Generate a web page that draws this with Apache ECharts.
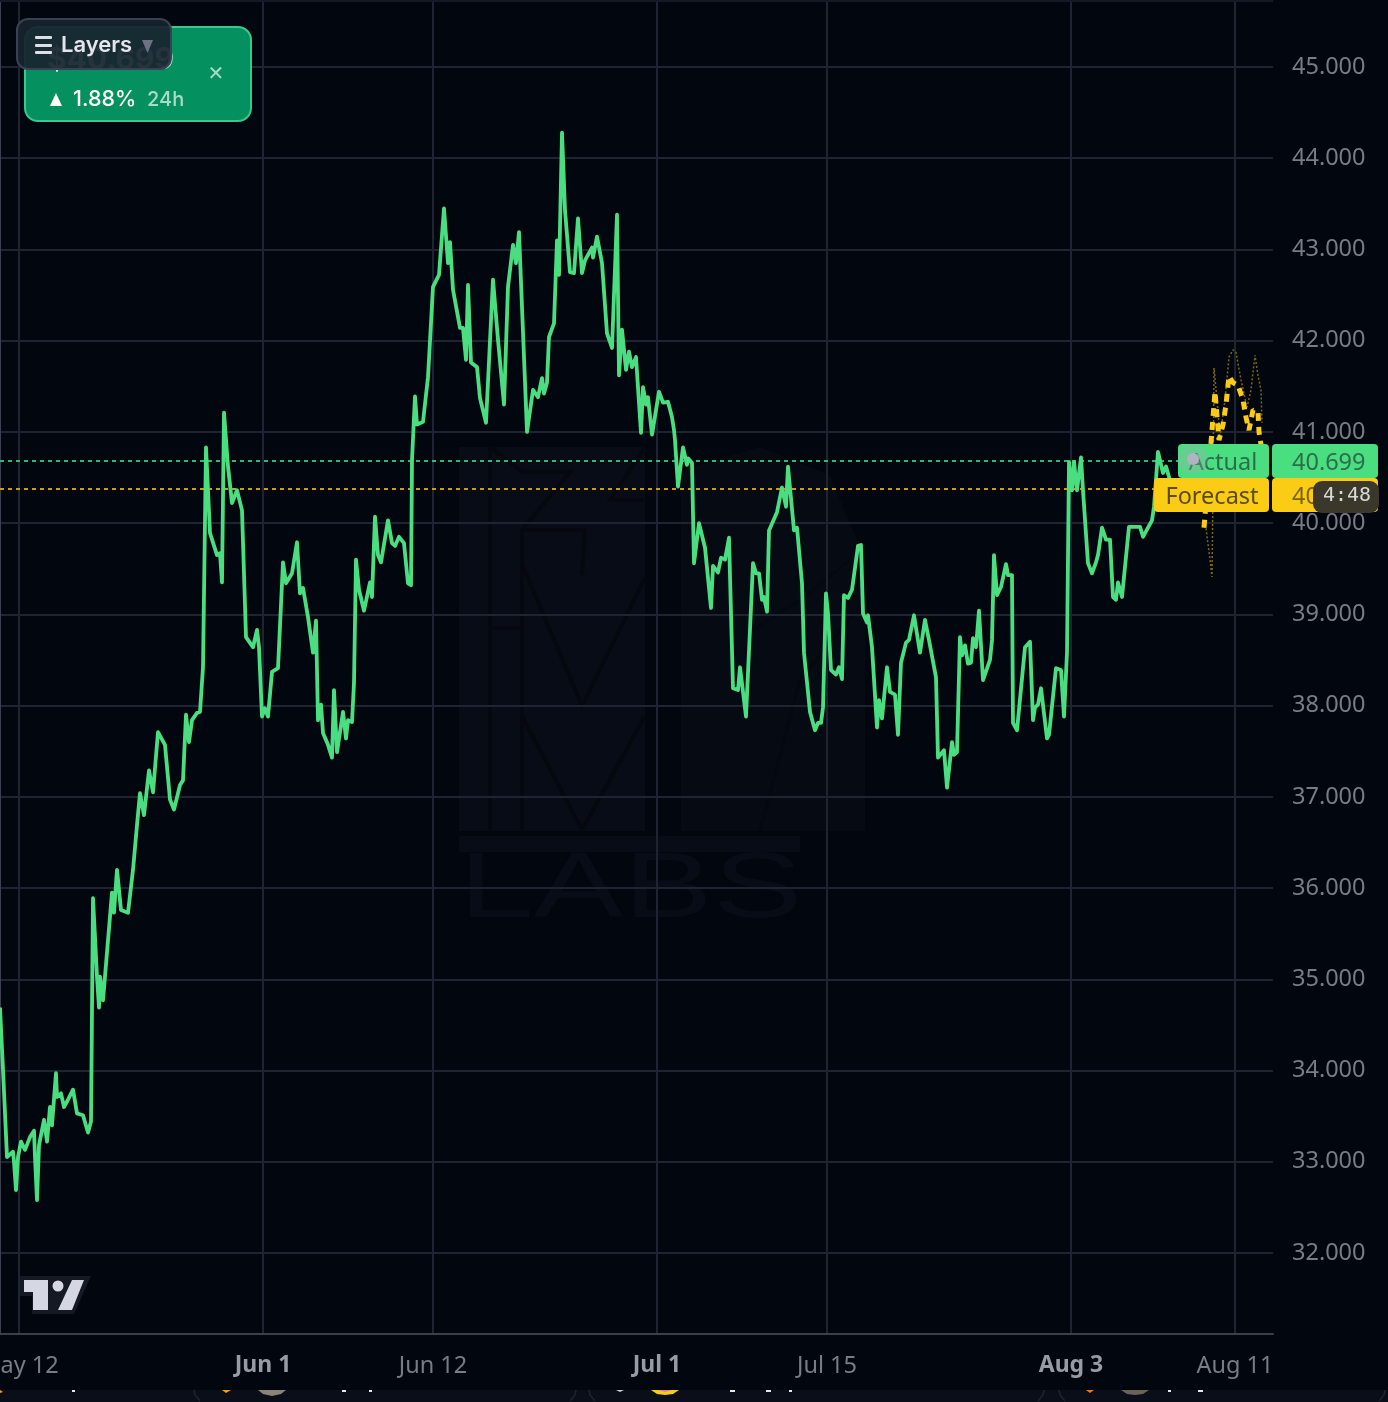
<!DOCTYPE html>
<html><head><meta charset="utf-8">
<style>html,body{margin:0;padding:0;background:#02060f}#c{width:1388px;height:1402px}#c canvas{filter:blur(.6px)}</style>
<script src="https://cdn.jsdelivr.net/npm/echarts@6/dist/echarts.min.js"></script>
</head><body><div id="c"></div>
<script>
// Time scale: session bar numbers on the (non-uniform) trading time axis
const xTickBars = [19, 263, 433, 657, 827, 1071, 1235];
const xTickLabels = ['May 12', 'Jun 1', 'Jun 12', 'Jul 1', 'Jul 15', 'Aug 3', 'Aug 11'];
const xTickMajor = ['Jun 1', 'Jul 1', 'Aug 3'];
const yTicks = [32, 33, 34, 35, 36, 37, 38, 39, 40, 41, 42, 43, 44, 45];

const actualBars = [0,3,7,9,13,14,16,18,21,25,30,34,35,37,39,44,47,50,52,56,57,61,64,68,73,77,83,88,91,93,97,99,100,103,112,114,117,121,128,133,137,140,144,149,153,158,165,170,174,180,183,186,189,192,197,200,203,206,210,217,220,222,224,228,232,237,242,246,253,257,259,262,265,268,272,278,283,286,292,297,300,303,308,313,316,318,321,323,328,332,334,337,343,346,348,352,354,356,359,364,370,372,375,378,381,388,392,395,399,404,408,411,412,415,417,423,428,433,439,444,448,450,453,460,463,466,468,471,477,480,486,493,498,504,508,513,516,519,527,533,538,542,544,547,549,554,557,559,562,565,570,574,578,582,585,592,593,597,602,607,612,617,619,622,626,629,632,636,641,643,646,648,652,659,663,668,672,674,675,678,683,687,688,692,694,699,705,711,713,718,721,725,729,733,738,740,746,748,753,756,759,762,764,767,769,777,782,786,788,794,797,802,804,810,815,818,821,823,826,828,831,836,839,842,844,848,852,858,861,863,867,868,872,877,879,882,887,890,895,898,901,906,909,914,920,925,930,936,938,944,947,949,952,954,957,960,962,965,968,971,973,976,979,983,990,992,994,997,1001,1006,1008,1012,1013,1017,1025,1030,1033,1035,1038,1041,1047,1049,1056,1061,1064,1067,1069,1072,1074,1077,1081,1083,1088,1092,1096,1098,1102,1106,1110,1113,1116,1118,1122,1124,1129,1140,1143,1152,1154,1158,1163,1166,1170];
const actualPrices = [34.69,34.01,33.05,33.04,33.11,33.00,32.69,33.05,33.22,33.13,33.27,33.34,33.05,32.58,33.18,33.46,33.22,33.60,33.40,33.97,33.71,33.75,33.60,33.68,33.79,33.53,33.51,33.32,33.44,35.89,35.03,34.69,35.03,34.77,35.95,35.73,36.20,35.76,35.73,36.20,36.69,37.04,36.80,37.29,37.05,37.71,37.57,36.97,36.86,37.13,37.18,37.90,37.60,37.84,37.92,37.93,38.42,40.83,39.89,39.65,39.67,39.35,41.21,40.62,40.22,40.36,40.14,38.75,38.64,38.83,38.64,37.88,37.97,37.88,38.37,38.41,39.57,39.34,39.45,39.79,39.23,39.29,38.97,38.58,38.93,37.84,38.01,37.70,37.57,37.43,38.17,37.49,37.93,37.64,37.84,37.82,38.25,39.60,39.27,39.04,39.35,39.19,40.07,39.65,39.57,40.03,39.78,39.75,39.85,39.78,39.34,39.32,40.69,41.39,41.08,41.11,41.60,42.59,42.72,43.45,42.85,43.08,42.56,42.14,42.14,41.79,42.61,41.76,41.71,41.37,41.10,42.67,42.01,41.30,42.59,43.05,42.85,43.19,41.00,41.46,41.38,41.59,41.42,41.54,42.04,42.19,43.10,42.72,44.28,43.43,42.75,42.74,43.34,42.74,42.88,43.02,42.91,43.14,42.85,42.08,41.92,43.38,41.62,42.12,41.68,41.88,41.71,41.82,40.99,41.49,41.30,41.38,40.97,41.44,41.32,41.33,41.16,41.02,40.91,40.40,40.83,40.64,40.71,40.66,39.56,40.00,39.73,39.07,39.53,39.46,39.62,39.60,39.84,38.19,38.17,38.42,37.88,37.90,39.56,39.45,39.45,39.16,39.19,39.03,39.92,40.12,40.39,40.18,40.62,39.92,39.95,39.34,38.58,37.93,37.73,37.81,37.81,37.98,39.23,39.01,38.39,38.34,38.42,38.29,39.21,39.18,39.27,39.75,39.76,39.01,38.91,38.99,38.64,37.76,38.06,37.86,38.42,38.15,38.12,37.68,38.47,38.69,38.72,38.99,38.58,38.94,38.66,38.31,37.43,37.51,37.10,37.08,37.60,37.46,37.49,38.75,38.55,38.66,38.46,38.47,38.74,38.64,39.04,38.28,38.50,38.72,39.65,39.21,39.30,39.55,39.43,39.43,37.81,37.73,38.64,38.70,37.84,37.98,38.01,38.19,37.64,37.68,38.41,38.39,37.88,38.58,40.67,40.36,40.67,40.36,40.72,40.36,39.56,39.45,39.57,39.65,39.95,39.82,39.82,39.19,39.16,39.35,39.19,39.17,39.96,39.96,39.85,40.03,40.18,40.78,40.55,40.62,40.47];

const forecastBars = [1204,1208,1212,1215,1219,1223,1226,1229,1233,1238,1243,1246,1249,1253,1258,1259,1261];
const forecastPrices = [39.95,40.47,41.02,41.44,40.91,41.08,41.30,41.61,41.54,41.51,41.35,41.16,41.02,41.24,41.22,41.00,40.86];
const bandBars = [1205,1210,1212,1213,1214,1217,1220,1225,1229,1233,1236,1241,1247,1251,1255,1258,1261,1262];
const bandPrices = [40.03,39.60,39.41,40.40,41.70,41.35,40.94,41.35,41.82,41.90,41.87,41.57,41.27,41.46,41.84,41.62,41.46,41.10];

const actualLast = 40.699;
const forecastLast = 40.38;
const pct24h = '1.88%';
const countdown = '4:48';

const FONT = '"Noto Sans", sans-serif';
const UI = 'Inter, sans-serif';
const GREEN = '#4ade80', YELLOW = '#facc15', GRID = '#1f2432', AXIS = '#3a4050', LABEL = '#777c87';
const toPairs = (xs, ys) => xs.map((x, i) => [x, ys[i]]);

const wm = '#080c16', wmDark = '#05080f';
const poly = (pts, fill, z) => ({ type: 'polygon', z: z || -5, silent: true, shape: { points: pts }, style: { fill } });
const wline = (pts, c, w) => ({ type: 'polyline', z: -4, silent: true, shape: { points: pts }, style: { stroke: c || wmDark, lineWidth: w || 4, fill: 'none' } });
const rect = (x, y, w, h, fill, r, z, stroke, lw) => ({ type: 'rect', z: z === undefined ? 50 : z, silent: true,
  shape: { x, y, width: w, height: h, r: r || 0 }, style: { fill, stroke, lineWidth: lw || 0 } });
const text = (x, y, t, o) => ({ type: 'text', z: (o && o.z) || 60, silent: true, x, y,
  style: Object.assign({ text: t, font: '400 23.5px ' + FONT, fill: '#fff', textAlign: 'left', textVerticalAlign: 'middle' }, o) });

const watermark = [
  poly([[459,447],[645,447],[645,831],[459,831]], wm),
  poly([[681,470],[760,447],[830,475],[865,560],[865,831],[681,831]], '#060a13'),
  poly([[459,836],[800,836],[800,852],[459,852]], wm),
  wline([[490,447],[490,831]]),
  wline([[522,530],[522,831]]),
  wline([[490,628],[522,628]]),
  wline([[490,447],[522,472],[570,472],[522,530]]),
  wline([[522,530],[585,530],[582,575]]),
  wline([[522,564],[582,706],[645,578]]),
  wline([[522,716],[582,830],[645,716]]),
  wline([[645,447],[610,500],[645,500]]),
  wline([[760,831],[800,680],[865,600]], '#05080f', 3),
  wline([[752,631],[800,600],[850,560]], '#05080f', 3),
  { type: 'text', z: -5, silent: true, x: 459, y: 892, scaleX: 1.46, style: { text: 'LABS', font: '400 92px "Liberation Sans", sans-serif', fill: wm, textAlign: 'left', textVerticalAlign: 'middle' } },
];

const cardEdge = (pts) => ({ type: 'polyline', z: 46, silent: true, shape: { points: pts }, style: { stroke: '#1e2433', lineWidth: 1.5, fill: 'none' } });
const bottomStrip = [
  rect(0, 1390, 1388, 12, '#0a0e18', 0, 40),
  cardEdge([[194,1390],[195,1395],[200,1401]]), cardEdge([[576,1390],[575,1395],[570,1401]]),
  cardEdge([[589,1390],[590,1395],[595,1401]]), cardEdge([[1044,1390],[1043,1395],[1038,1401]]),
  cardEdge([[1059,1390],[1060,1395],[1065,1401]]), cardEdge([[1385,1390],[1384,1395],[1379,1401]]),
  poly([[0,1390],[3,1392],[0,1393]], '#f59e0b', 45),
  poly([[222,1390],[226,1393],[231,1390]], '#f59e0b', 45),
  poly([[258,1390],[263,1394],[272,1396],[281,1394],[286,1390]], '#8a8478', 45),
  poly([[651,1390],[657,1394],[665,1395],[673,1394],[679,1390]], '#facc15', 45),
  poly([[658,1390],[665,1392],[672,1390]], '#e879a8', 46),
  poly([[616,1390],[620,1392],[624,1390]], '#c8ccd4', 45),
  poly([[1121,1390],[1127,1394],[1135,1395],[1143,1394],[1149,1390]], '#6a6458', 45),
  poly([[1086,1390],[1090,1393],[1094,1390]], '#f97316', 45),
  rect(72, 1390, 3, 2, '#e5e7eb', 0, 45), rect(342, 1390, 4, 2, '#e5e7eb', 0, 45), rect(369, 1390, 3, 2, '#e5e7eb', 0, 45),
  rect(730, 1390, 5, 2, '#e5e7eb', 0, 45), rect(766, 1390, 5, 2, '#e5e7eb', 0, 45), rect(789, 1390, 3, 2, '#e5e7eb', 0, 45),
  rect(1168, 1390, 3, 2, '#e5e7eb', 0, 45), rect(1198, 1390, 5, 2, '#e5e7eb', 0, 45),
];

const tvLogo = [
  poly([[20,1276],[91,1276],[74,1314],[32,1314],[32,1296],[20,1296]], '#141924', 30),
  poly([[24,1280],[48,1280],[48,1310],[33,1310],[33,1292],[24,1292]], '#d5d8e2', 31),
  { type: 'circle', z: 31, silent: true, shape: { cx: 58, cy: 1286, r: 5.5 }, style: { fill: '#d5d8e2' } },
  poly([[72,1280],[84,1280],[72,1310],[58,1310]], '#d5d8e2', 31),
];

const priceTags = [
  rect(1178, 444, 91, 34, GREEN, 4, 50),
  rect(1272, 444, 106, 34, GREEN, 4, 50),
  text(1223, 463, 'Actual', { textAlign: 'center', fill: '#2b6e49' }),
  text(1292, 463, actualLast.toFixed(3), { fill: '#2b6e49' }),
  rect(1154, 478, 115, 34, YELLOW, 4, 51),
  rect(1272, 478, 106, 34, YELLOW, 4, 51),
  text(1212, 497, 'Forecast', { textAlign: 'center', fill: '#5c4b0c', z: 61 }),
  text(1292, 497, forecastLast.toFixed(3), { fill: '#7a6410', z: 61 }),
  rect(1313, 481, 66, 32, '#3c372b', 9, 62),
  text(1347, 496, countdown, { textAlign: 'center', font: '400 20px "DejaVu Sans Mono", monospace', fill: '#d8d8d4', z: 63 }),
  { type: 'circle', z: 64, silent: true, shape: { cx: 1193, cy: 459, r: 15 }, style: { fill: 'rgba(170,170,185,0.28)' } },
  { type: 'circle', z: 65, silent: true, shape: { cx: 1193, cy: 459, r: 6 }, style: { fill: '#b2b3c2' } },
];

const panels = [
  rect(25, 27, 226, 94, '#05905f', 13, 70, '#3ac88d', 2),
  text(73, 100, pct24h, { z: 71, font: '500 21.5px ' + UI, fill: '#ffffff' }),
  poly([[56,93],[62,106],[50,106]], '#fff', 71),
  text(147, 100, '24h', { z: 71, font: '500 20px ' + UI, fill: '#a9dcc8' }),
  text(216, 75, '✕', { z: 71, textAlign: 'center', font: '400 20px "DejaVu Sans", sans-serif', fill: '#a9dcc8' }),
  text(47, 60, '$40.699', { z: 71, font: '700 30px ' + UI, fill: '#d8f2e6' }),
  rect(17, 19, 154, 50, 'rgba(24,36,46,0.93)', 11, 72, '#3a4152', 2),
  rect(35, 36, 17, 3, '#dcdfe6', 1, 73), rect(35, 44, 17, 3, '#dcdfe6', 1, 73), rect(35, 51, 17, 3, '#dcdfe6', 1, 73),
  text(61, 45, 'Layers', { z: 73, font: '600 22px ' + UI, fill: '#e4e6ec' }),
  poly([[142,40],[153,40],[147.5,53]], '#6c7282', 73),
];

const topLine = [{ type: 'rect', z: 1, silent: true, shape: { x: 0, y: 0, width: 1273, height: 2 }, style: { fill: '#141926' } }];

const chart = echarts.init(document.getElementById('c'), null, { renderer: 'canvas', width: 1388, height: 1402 });
chart.setOption({
  animation: false,
  backgroundColor: '#02060f',
  grid: { left: 0, top: 0, width: 1273, height: 1334, containLabel: false, outerBoundsMode: 'none' },
  xAxis: {
    type: 'value', min: 0, max: 1273, position: 'bottom',
    axisLine: { show: true, onZero: false, lineStyle: { color: AXIS, width: 2 } },
    axisTick: { show: false, customValues: xTickBars },
    splitLine: { show: true, lineStyle: { color: GRID, width: 2 } },
    axisLabel: {
      customValues: xTickBars, margin: 20, hideOverlap: false, showMinLabel: true, showMaxLabel: true,
      formatter: (v) => { const s = xTickLabels[xTickBars.indexOf(v)]; return xTickMajor.includes(s) ? '{b|' + s + '}' : '{n|' + s + '}'; },
      rich: {
        n: { fontFamily: 'Noto Sans', fontWeight: 400, fontSize: 23.5, color: LABEL },
        b: { fontFamily: 'Noto Sans', fontWeight: 700, fontSize: 23, color: '#979ba5' }
      }
    }
  },
  yAxis: {
    type: 'value', min: 31.112, max: 45.734, position: 'right', scale: true,
    axisLine: { show: true, lineStyle: { color: AXIS, width: 2 } },
    axisTick: { show: false, customValues: yTicks },
    splitLine: { show: true, lineStyle: { color: GRID, width: 2 } },
    axisLabel: { customValues: yTicks, margin: 19, color: LABEL, fontFamily: 'Noto Sans', fontSize: 23.5, padding: [3, 0, 0, 0], formatter: (v) => v.toFixed(3), hideOverlap: false }
  },
  series: [
    { type: 'line', name: 'Forecast band', data: toPairs(bandBars, bandPrices), showSymbol: false, z: 3, silent: true,
      lineStyle: { color: '#7d6910', width: 1.5, type: [2, 2] } },
    { type: 'line', name: 'Forecast', data: toPairs(forecastBars, forecastPrices), showSymbol: false, z: 4, silent: true,
      lineStyle: { color: YELLOW, width: 5, type: [8, 6] } },
    { type: 'line', name: 'Actual', data: toPairs(actualBars, actualPrices), showSymbol: false, z: 5, silent: true,
      lineStyle: { color: GREEN, width: 3.8, join: 'round' },
      markLine: { silent: true, symbol: 'none', animation: false, label: { show: false },
        data: [
          { yAxis: 40.68, lineStyle: { color: '#2fb873', width: 2, type: [4, 4] } },
          { yAxis: 40.38, lineStyle: { color: '#d19c0c', width: 2, type: [4, 4] } }
        ] } }
  ],
  graphic: { elements: [...topLine, ...watermark, ...tvLogo, ...bottomStrip, ...priceTags, ...panels] }
});
</script></body></html>
